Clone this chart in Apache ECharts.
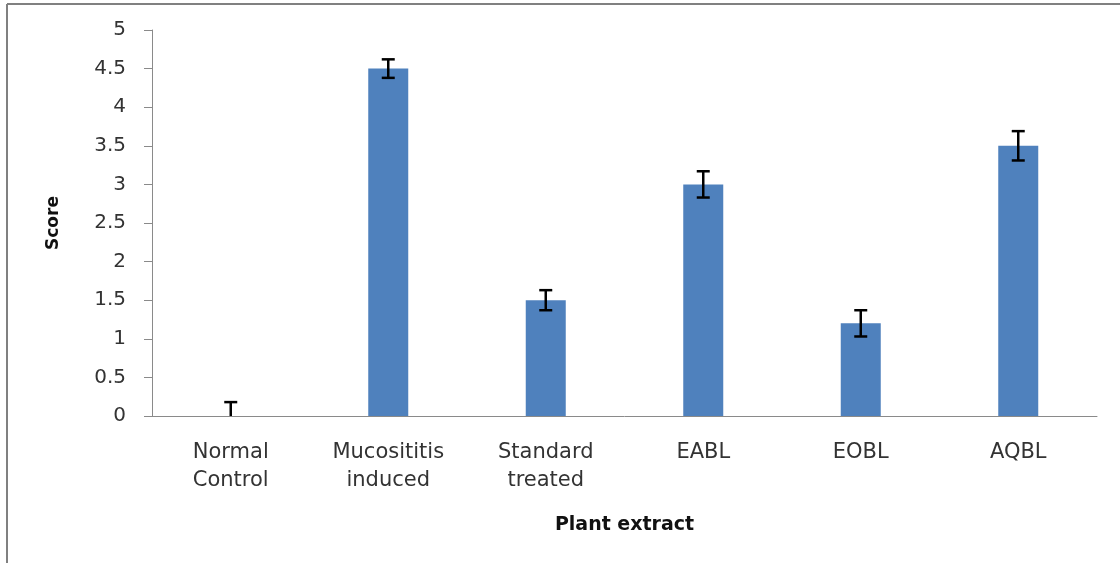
<!DOCTYPE html>
<html>
<head>
<meta charset="utf-8">
<script src="https://cdn.jsdelivr.net/npm/echarts@6/dist/echarts.min.js"></script>
<style>
html,body{margin:0;padding:0;background:#fff;}
#chart{width:1120px;height:563px;}
</style>
</head>
<body>
<div id="chart"></div>
<script>
var categories = ['Normal\nControl', 'Mucosititis\ninduced', 'Standard\ntreated', 'EABL', 'EOBL', 'AQBL'];
var scores = [0, 4.5, 1.5, 3.0, 1.2, 3.5];
var errors = [0.18, 0.12, 0.13, 0.17, 0.17, 0.19];
var yTicks = [0, 0.5, 1, 1.5, 2, 2.5, 3, 3.5, 4, 4.5, 5];

var errData = scores.map(function (v, i) { return [i, v - errors[i], v + errors[i]]; });

var chart = echarts.init(document.getElementById('chart'), null, {renderer: 'canvas'});
var font = 'DejaVu Sans';
chart.setOption({
  animation: false,
  backgroundColor: '#fff',
  grid: {left: 152, right: 23, top: 30, bottom: 147},
  graphic: [
    {type: 'line', shape: {x1: 7, y1: 4, x2: 1120, y2: 4}, style: {stroke: '#808080', lineWidth: 2}},
    {type: 'line', shape: {x1: 7, y1: 4, x2: 7, y2: 563}, style: {stroke: '#808080', lineWidth: 2}}
  ],
  xAxis: {
    type: 'category',
    data: categories,
    name: 'Plant extract',
    nameLocation: 'middle',
    nameGap: 100,
    nameTextStyle: {fontFamily: font, fontSize: 19, fontWeight: 'bold', color: '#111'},
    axisLine: {lineStyle: {color: '#8a8a8a', width: 1}},
    axisTick: {show: false},
    axisLabel: {fontFamily: font, fontSize: 21, color: '#333', margin: 23, lineHeight: 28, interval: 0}
  },
  yAxis: {
    type: 'value',
    min: 0, max: 5, interval: 0.5,
    name: 'Score',
    nameLocation: 'middle',
    nameRotate: 90,
    nameGap: 90,
    nameTextStyle: {fontFamily: font, fontSize: 17, fontWeight: 'bold', color: '#111'},
    axisLine: {show: true, lineStyle: {color: '#8a8a8a', width: 1}},
    axisTick: {show: true, length: 8, lineStyle: {color: '#8a8a8a'}},
    splitLine: {show: false},
    axisLabel: {
      fontFamily: font, fontSize: 20, color: '#333', margin: 26,
      formatter: function (v) { return yTicks.indexOf(v) >= 0 ? String(v) : ''; }
    }
  },
  series: [
    {
      type: 'bar',
      data: scores,
      barWidth: 40,
      itemStyle: {color: '#4F81BD'}
    },
    {
      type: 'custom',
      data: errData,
      z: 10,
      renderItem: function (params, api) {
        var x = api.value(0);
        var lo = Math.max(0, api.value(1));
        var hi = api.value(2);
        var pLo = api.coord([x, lo]);
        var pHi = api.coord([x, hi]);
        var hw = 6.5;
        var st = {stroke: '#000', lineWidth: 2.5};
        var children = [
          {type: 'line', shape: {x1: pHi[0], y1: pHi[1], x2: pLo[0], y2: pLo[1]}, style: st},
          {type: 'line', shape: {x1: pHi[0] - hw, y1: pHi[1], x2: pHi[0] + hw, y2: pHi[1]}, style: st}
        ];
        if (api.value(1) > 0) {
          children.push({type: 'line', shape: {x1: pLo[0] - hw, y1: pLo[1], x2: pLo[0] + hw, y2: pLo[1]}, style: st});
        }
        return {type: 'group', children: children};
      }
    }
  ]
});
</script>
</body>
</html>
